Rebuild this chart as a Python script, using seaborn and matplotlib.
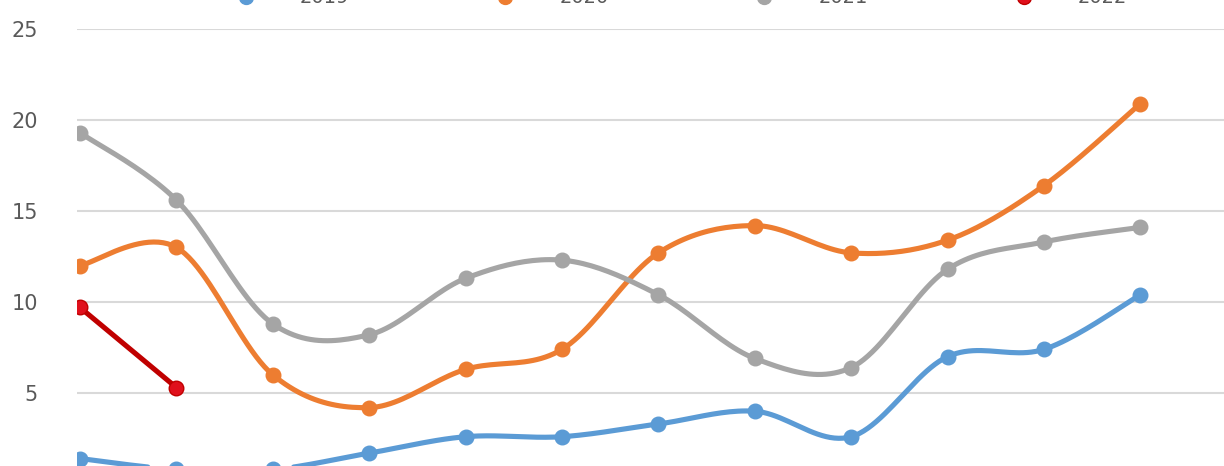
import numpy as np
import pandas as pd
import matplotlib
matplotlib.use("Agg")
import matplotlib.pyplot as plt
import seaborn as sns

months = list(range(1, 13))
series_names = ["2019", "2020", "2021", "2022"]
v2019 = [1.4, 0.8, 0.8, 1.7, 2.6, 2.6, 3.3, 4.0, 2.6, 7.0, 7.4, 10.4]
v2020 = [12.0, 13.0, 6.0, 4.2, 6.3, 7.4, 12.7, 14.2, 12.7, 13.4, 16.4, 20.9]
v2021 = [19.3, 15.6, 8.8, 8.2, 11.3, 12.3, 10.4, 6.9, 6.4, 11.8, 13.3, 14.1]
v2022 = [9.7, 5.3]
yticks = [5, 10, 15, 20, 25]

colors = ["#5B9BD5", "#ED7D31", "#A5A5A5", "#C00000"]
marker_colors = ["#5B9BD5", "#ED7D31", "#A5A5A5", "#E0101C"]


def smooth(x, y, n=24):
    """Excel-like smoothed line (Catmull-Rom style Bezier)."""
    x = np.asarray(x, float)
    y = np.asarray(y, float)
    if len(x) < 3:
        return x, y
    px = np.concatenate([[x[0]], x, [x[-1]]])
    py = np.concatenate([[y[0]], y, [y[-1]]])
    xs, ys = [], []
    t = np.linspace(0, 1, n)
    for i in range(1, len(px) - 2):
        p0 = np.array([px[i], py[i]])
        p3 = np.array([px[i + 1], py[i + 1]])
        p1 = p0 + (np.array([px[i + 1], py[i + 1]]) - np.array([px[i - 1], py[i - 1]])) / 6
        p2 = p3 - (np.array([px[i + 2], py[i + 2]]) - np.array([px[i], py[i]])) / 6
        b = ((1 - t) ** 3)[:, None] * p0 + (3 * (1 - t) ** 2 * t)[:, None] * p1 \
            + (3 * (1 - t) * t ** 2)[:, None] * p2 + (t ** 3)[:, None] * p3
        xs.extend(b[:, 0]); ys.extend(b[:, 1])
    return np.array(xs), np.array(ys)


sns.set_theme(style="white")
plt.rcParams['font.family'] = ['DejaVu Sans']

fig = plt.figure(figsize=(12.24, 4.66), dpi=100)
ax = fig.add_axes([77 / 1224, 0.0, 1 - 77 / 1224, 1 - 29 / 466])

all_vals = [v2019, v2020, v2021, v2022]
handles = []
for name, vals, c, mc in zip(series_names, all_vals, colors, marker_colors):
    xm = np.array(months[:len(vals)], float) - 1
    sx, sy = smooth(xm, vals)
    sns.lineplot(x=sx, y=sy, ax=ax, color=c, linewidth=3.7, sort=False,
                 estimator=None, legend=False, zorder=3)
    sns.scatterplot(x=xm, y=vals, ax=ax, color=mc, s=110, edgecolor=c,
                    linewidth=1, legend=False, zorder=4)
    handles.append(plt.Line2D([], [], color=c, lw=3.7, marker='o',
                              markersize=10, markerfacecolor=mc, label=name))

ax.set_xlim(-3 / 96.4, (1224 - 80) / 96.4)
ax.set_ylim(0.99, 25)
ax.set_yticks(yticks)
ax.set_yticklabels([str(v) for v in yticks])
ax.set_xticks([])
ax.grid(axis='y', color='#D9D9D9', linewidth=1.5)
ax.set_axisbelow(True)
for s in ax.spines.values():
    s.set_visible(False)
ax.tick_params(axis='y', length=0, pad=28, labelsize=15, labelcolor='#595959')

fig.legend(handles=handles, loc='center', ncol=4, frameon=False,
           bbox_to_anchor=(0.545, 1 + 2 / 466), fontsize=14,
           columnspacing=6, handlelength=4, labelcolor='#595959')

fig.savefig("out.png", dpi=100)
